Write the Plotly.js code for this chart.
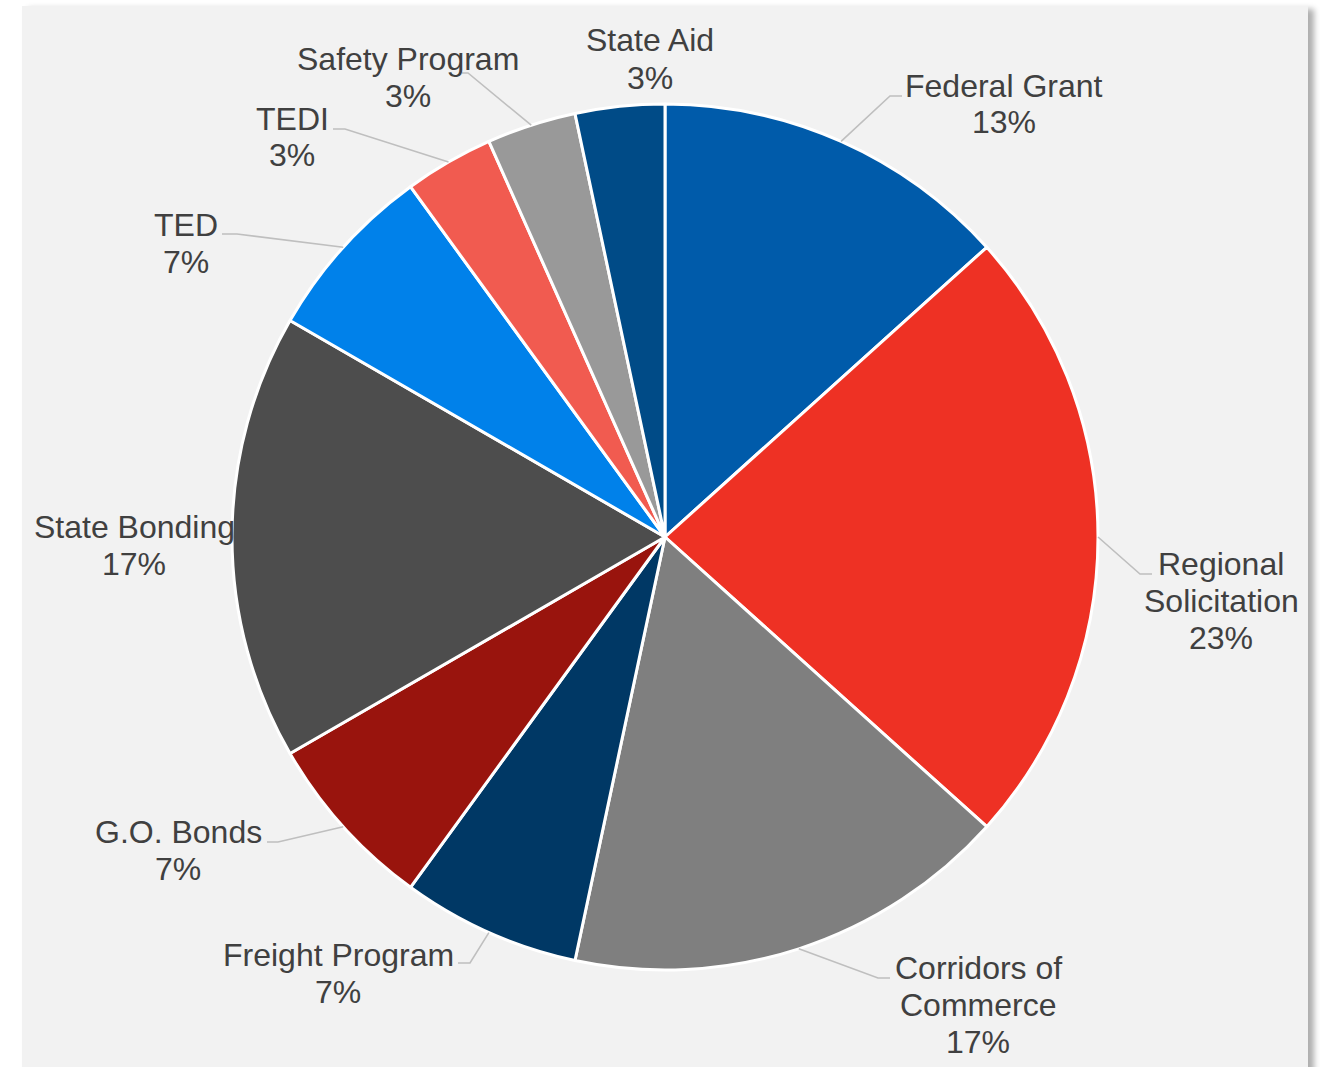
<!DOCTYPE html>
<html>
<head>
<meta charset="utf-8">
<script src="https://cdn.plot.ly/plotly-3.0.1.min.js"></script>
<style>
  html, body { margin: 0; padding: 0; background: #ffffff; width: 1320px; height: 1067px; overflow: hidden; }
  #panel { position: absolute; left: 22px; top: 6px; width: 1286px; height: 1100px; background: #f2f2f2;
           box-shadow: 6px 3px 6px rgba(0,0,0,0.32); }
  #chart { position: absolute; left: 0; top: 0; width: 1320px; height: 1067px; }
</style>
</head>
<body>
<div id="panel"></div>
<div id="chart"></div>
<script>
// ---- data ----
const categories = ["Federal Grant", "Regional Solicitation", "Corridors of Commerce", "Freight Program",
                    "G.O. Bonds", "State Bonding", "TED", "TEDI", "Safety Program", "State Aid"];
const projectCounts = [4, 7, 5, 2, 2, 5, 2, 1, 1, 1];

// ---- styling / layout (not data) ----
const sliceColors = ["#005BAA", "#EE3124", "#7F7F7F", "#003865", "#99140D",
                     "#4D4D4D", "#0081EA", "#F15B50", "#999999", "#004B87"];
const labelWrap = {
  "Regional Solicitation": ["Regional", "Solicitation"],
  "Corridors of Commerce": ["Corridors of", "Commerce"]
};
// label block centre and leader elbow (pixels), hEnd = end of short horizontal stub
const labelPlacement = {
  "Federal Grant":         {cx: 1004, cy: 104, elbow: [890, 96],  hEnd: 902},
  "Regional Solicitation": {cx: 1221, cy: 601, elbow: [1140, 574], hEnd: 1152},
  "Corridors of Commerce": {cx: 978,  cy: 1005, elbow: [878, 978], hEnd: 890},
  "Freight Program":       {cx: 338,  cy: 973, elbow: [470, 963], hEnd: 458},
  "G.O. Bonds":            {cx: 178,  cy: 850, elbow: [278, 842], hEnd: 267},
  "State Bonding":         {cx: 134,  cy: 545, elbow: null},
  "TED":                   {cx: 186,  cy: 243, elbow: [237, 234], hEnd: 222},
  "TEDI":                  {cx: 292,  cy: 137, elbow: [345, 129], hEnd: 333},
  "Safety Program":        {cx: 408,  cy: 77,  elbow: [468, 73],  hEnd: 462},
  "State Aid":             {cx: 650,  cy: 59,  elbow: null}
};
const lineGap = 37;
const labelFont = {family: "Liberation Sans", size: 32, color: "#404040"};

const W = 1320, H = 1067;
const pieCx = 665, pieCy = 537, pieR = 433;
const px = x => x / W;
const py = y => 1 - y / H;

const total = projectCounts.reduce((a, b) => a + b, 0);
const annotations = [];
const shapes = [];
let cum = 0;
categories.forEach((cat, i) => {
  const v = projectCounts[i];
  const mid = (cum + v / 2) / total * 2 * Math.PI; // clockwise from 12 o'clock
  cum += v;
  const pct = Math.round(v / total * 100) + "%";
  const p = labelPlacement[cat];
  const lines = (labelWrap[cat] || [cat]).concat([pct]);
  lines.forEach((txt, k) => {
    annotations.push({
      x: px(p.cx), y: py(p.cy + (k - (lines.length - 1) / 2) * lineGap),
      xref: "paper", yref: "paper",
      xanchor: "center", yanchor: "middle", align: "center", showarrow: false,
      text: txt, font: labelFont
    });
  });
  if (p.elbow) {
    const sx = pieCx + pieR * Math.sin(mid);
    const sy = pieCy - pieR * Math.cos(mid);
    shapes.push({
      type: "path", xref: "paper", yref: "paper",
      path: `M ${px(sx)} ${py(sy)} L ${px(p.elbow[0])} ${py(p.elbow[1])} L ${px(p.hEnd)} ${py(p.elbow[1])}`,
      line: {color: "#bfbfbf", width: 1.6}
    });
  }
});

const trace = {
  type: "pie",
  labels: categories,
  values: projectCounts,
  sort: false,
  direction: "clockwise",
  rotation: 0,
  textinfo: "none",
  hoverinfo: "label+percent",
  marker: {colors: sliceColors, line: {color: "#ffffff", width: 3}},
  domain: {x: [px(pieCx - pieR), px(pieCx + pieR)], y: [py(pieCy + pieR), py(pieCy - pieR)]},
  showlegend: false
};

const layout = {
  width: W, height: H,
  margin: {l: 0, r: 0, t: 0, b: 0},
  paper_bgcolor: "rgba(0,0,0,0)",
  plot_bgcolor: "rgba(0,0,0,0)",
  showlegend: false,
  annotations: annotations,
  shapes: shapes
};

Plotly.newPlot("chart", [trace], layout, {displayModeBar: false, staticPlot: true});
</script>
</body>
</html>
